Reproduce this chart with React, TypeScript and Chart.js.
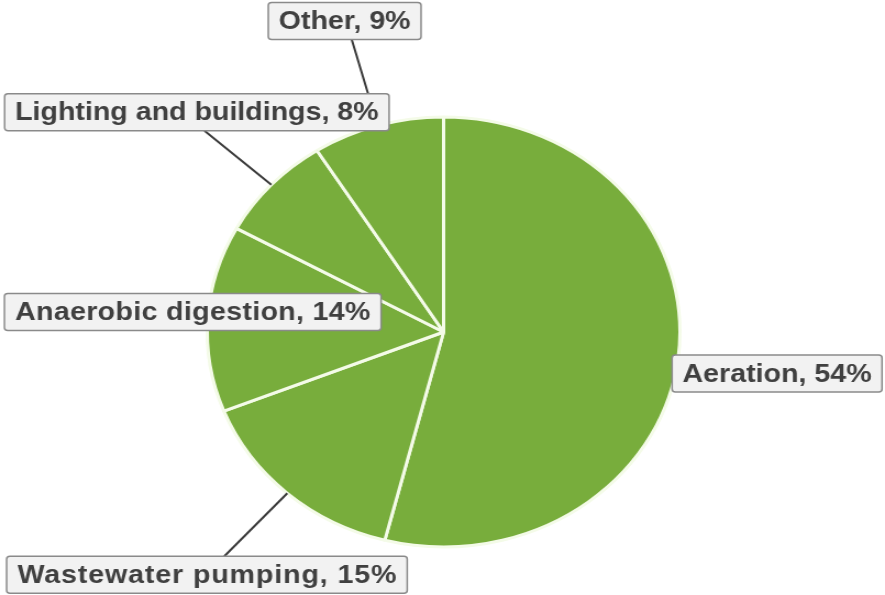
import React, { useEffect, useRef } from "react";
import { Chart, registerables } from "chart.js";

Chart.register(...registerables);

const categories = [
  "Aeration",
  "Wastewater pumping",
  "Anaerobic digestion",
  "Lighting and buildings",
  "Other",
];
const shares = [54, 15, 14, 8, 9];

// label box centre offsets from each slice's outer-edge midpoint (canvas units)
const labelOffsets = [
  [90, 14.6],
  [-73.1, 81.5],
  [-13.6, -6.5],
  [-67.7, -72.5],
  [-30, -104.5],
];
// per-label letter spacing (px)
const labelSpacing = [0, 0.8, 0.3, 0, 0];
// leader line: null = none, otherwise [x offset from box centre, edge: 1 bottom / -1 top]
const leaders: (number[] | null)[] = [null, [15.8, -1], null, [6.9, 1], [6.4, 1]];

const FONT = "bold 26px 'Liberation Sans', Arial, sans-serif";

const labelPlugin = {
  id: "boxLabels",
  afterDatasetsDraw(chart: any) {
    const ctx = chart.ctx;
    const meta = chart.getDatasetMeta(0);
    ctx.save();
    ctx.font = FONT;
    const boxes: any[] = [];
    meta.data.forEach((el: any, i: number) => {
      const p = el.getProps(["x", "y", "startAngle", "endAngle", "outerRadius"], true);
      const mid = (p.startAngle + p.endAngle) / 2;
      const ax = p.x + Math.cos(mid) * p.outerRadius;
      const ay = p.y + Math.sin(mid) * p.outerRadius;
      const text = `${categories[i]}, ${shares[i]}%`;
      ctx.letterSpacing = `${labelSpacing[i]}px`;
      const tw = ctx.measureText(text).width;
      const w = tw + 19;
      const h = 37;
      const cx = ax + labelOffsets[i][0];
      const cy = ay + labelOffsets[i][1];
      boxes.push({ text, cx, cy, w, h, ax, ay, i });
    });
    // leader lines first
    ctx.strokeStyle = "#3a3a3a";
    ctx.lineWidth = 2;
    boxes.forEach((b) => {
      const l = leaders[b.i];
      if (!l) return;
      const sx = b.cx + l[0];
      const sy = b.cy + (l[1] * b.h) / 2;
      ctx.beginPath();
      ctx.moveTo(sx, sy);
      ctx.lineTo(b.ax, b.ay);
      ctx.stroke();
    });
    boxes.forEach((b) => {
      const x = b.cx - b.w / 2;
      const y = b.cy - b.h / 2;
      ctx.beginPath();
      ctx.roundRect(x, y, b.w, b.h, 3);
      ctx.fillStyle = "#f2f2f2";
      ctx.fill();
      ctx.strokeStyle = "#8a8a8a";
      ctx.lineWidth = 1.5;
      ctx.stroke();
      ctx.fillStyle = "#404040";
      ctx.letterSpacing = `${labelSpacing[b.i]}px`;
      ctx.textAlign = "center";
      ctx.textBaseline = "middle";
      ctx.fillText(b.text, b.cx + labelSpacing[b.i] / 2, b.cy + 1);
    });
    ctx.restore();
  },
};

export default function App() {
  const ref = useRef<HTMLCanvasElement>(null);
  useEffect(() => {
    document.body.style.margin = "0";
    const chart = new Chart(ref.current!, {
      type: "pie",
      data: {
        labels: categories,
        datasets: [
          {
            data: shares,
            backgroundColor: "#78ad3c",
            borderColor: "#f4fbe8",
            borderWidth: 3,
          },
        ],
      },
      options: {
        animation: false,
        responsive: false,
        layout: { padding: { top: 115.5, bottom: 46.5, left: 187, right: 185 } },
        plugins: {
          legend: { display: false },
          tooltip: { enabled: false },
        },
      },
      plugins: [labelPlugin],
    });
    return () => chart.destroy();
  }, []);
  return (
    <canvas
      ref={ref}
      width={805}
      height={595}
      style={{ width: "885px", height: "595px", display: "block" }}
    />
  );
}
